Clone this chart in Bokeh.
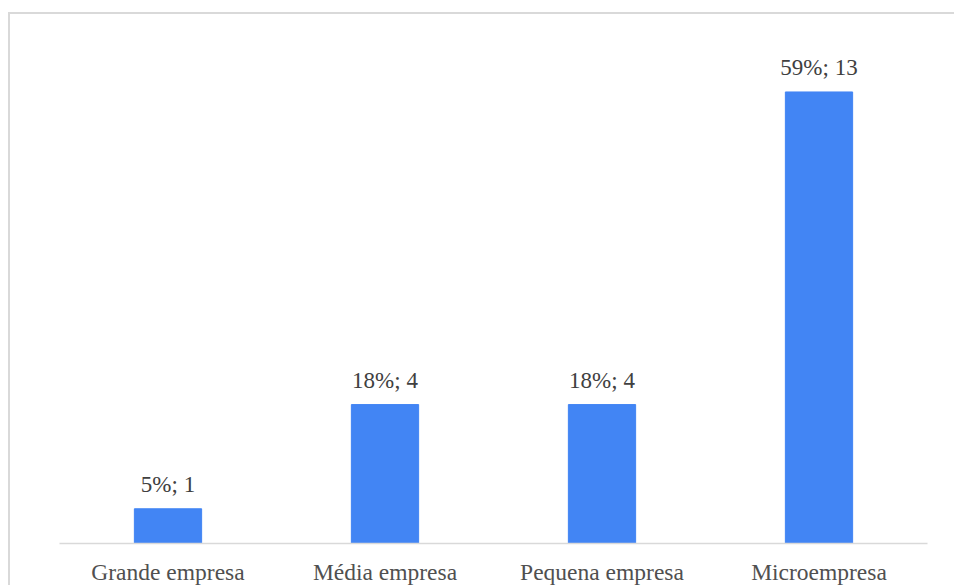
from bokeh.plotting import figure
from bokeh.models import ColumnDataSource, FactorRange, Range1d
from bokeh.core.properties import value
from bokeh.embed import file_html
from bokeh.resources import INLINE

categories = ["Grande empresa", "Média empresa", "Pequena empresa", "Microempresa"]
counts = [1, 4, 4, 13]
percents = ["5%", "18%", "18%", "59%"]
labels = [f"{p}; {c}" for p, c in zip(percents, counts)]

src = ColumnDataSource(dict(cat=categories, n=counts, lab=labels))

p = figure(width=946, height=573, x_range=FactorRange(*categories, range_padding=0),
           y_range=Range1d(0, 15), output_backend="svg", toolbar_location=None,
           min_border_left=49, min_border_right=29, min_border_top=8, min_border_bottom=32)
p.margin = (12, 0, 0, 8)
p.styles = {"border-top": "2px solid #d9d9d9", "border-left": "2px solid #d9d9d9",
            "box-sizing": "border-box"}

p.vbar(x="cat", top="n", width=0.31, source=src, color="#4285F4")
p.text(x="cat", y="n", text="lab", source=src, text_align="center",
       text_baseline="alphabetic", y_offset=-24, text_font=value("Liberation Serif"),
       text_font_size="23px", text_color="#404040")

p.yaxis.visible = False
p.xgrid.visible = False
p.ygrid.visible = False
p.outline_line_color = None
p.xaxis.axis_line_color = "#d9d9d9"
p.xaxis.axis_line_width = 1.5
p.xaxis.major_tick_line_color = None
p.xaxis.minor_tick_line_color = None
p.xaxis.major_label_standoff = 9
p.xaxis.major_label_text_font = "Liberation Serif"
p.xaxis.major_label_text_font_size = "23.5px"
p.xaxis.major_label_text_color = "#505050"

open("out.html", "w").write(file_html(p, INLINE))
